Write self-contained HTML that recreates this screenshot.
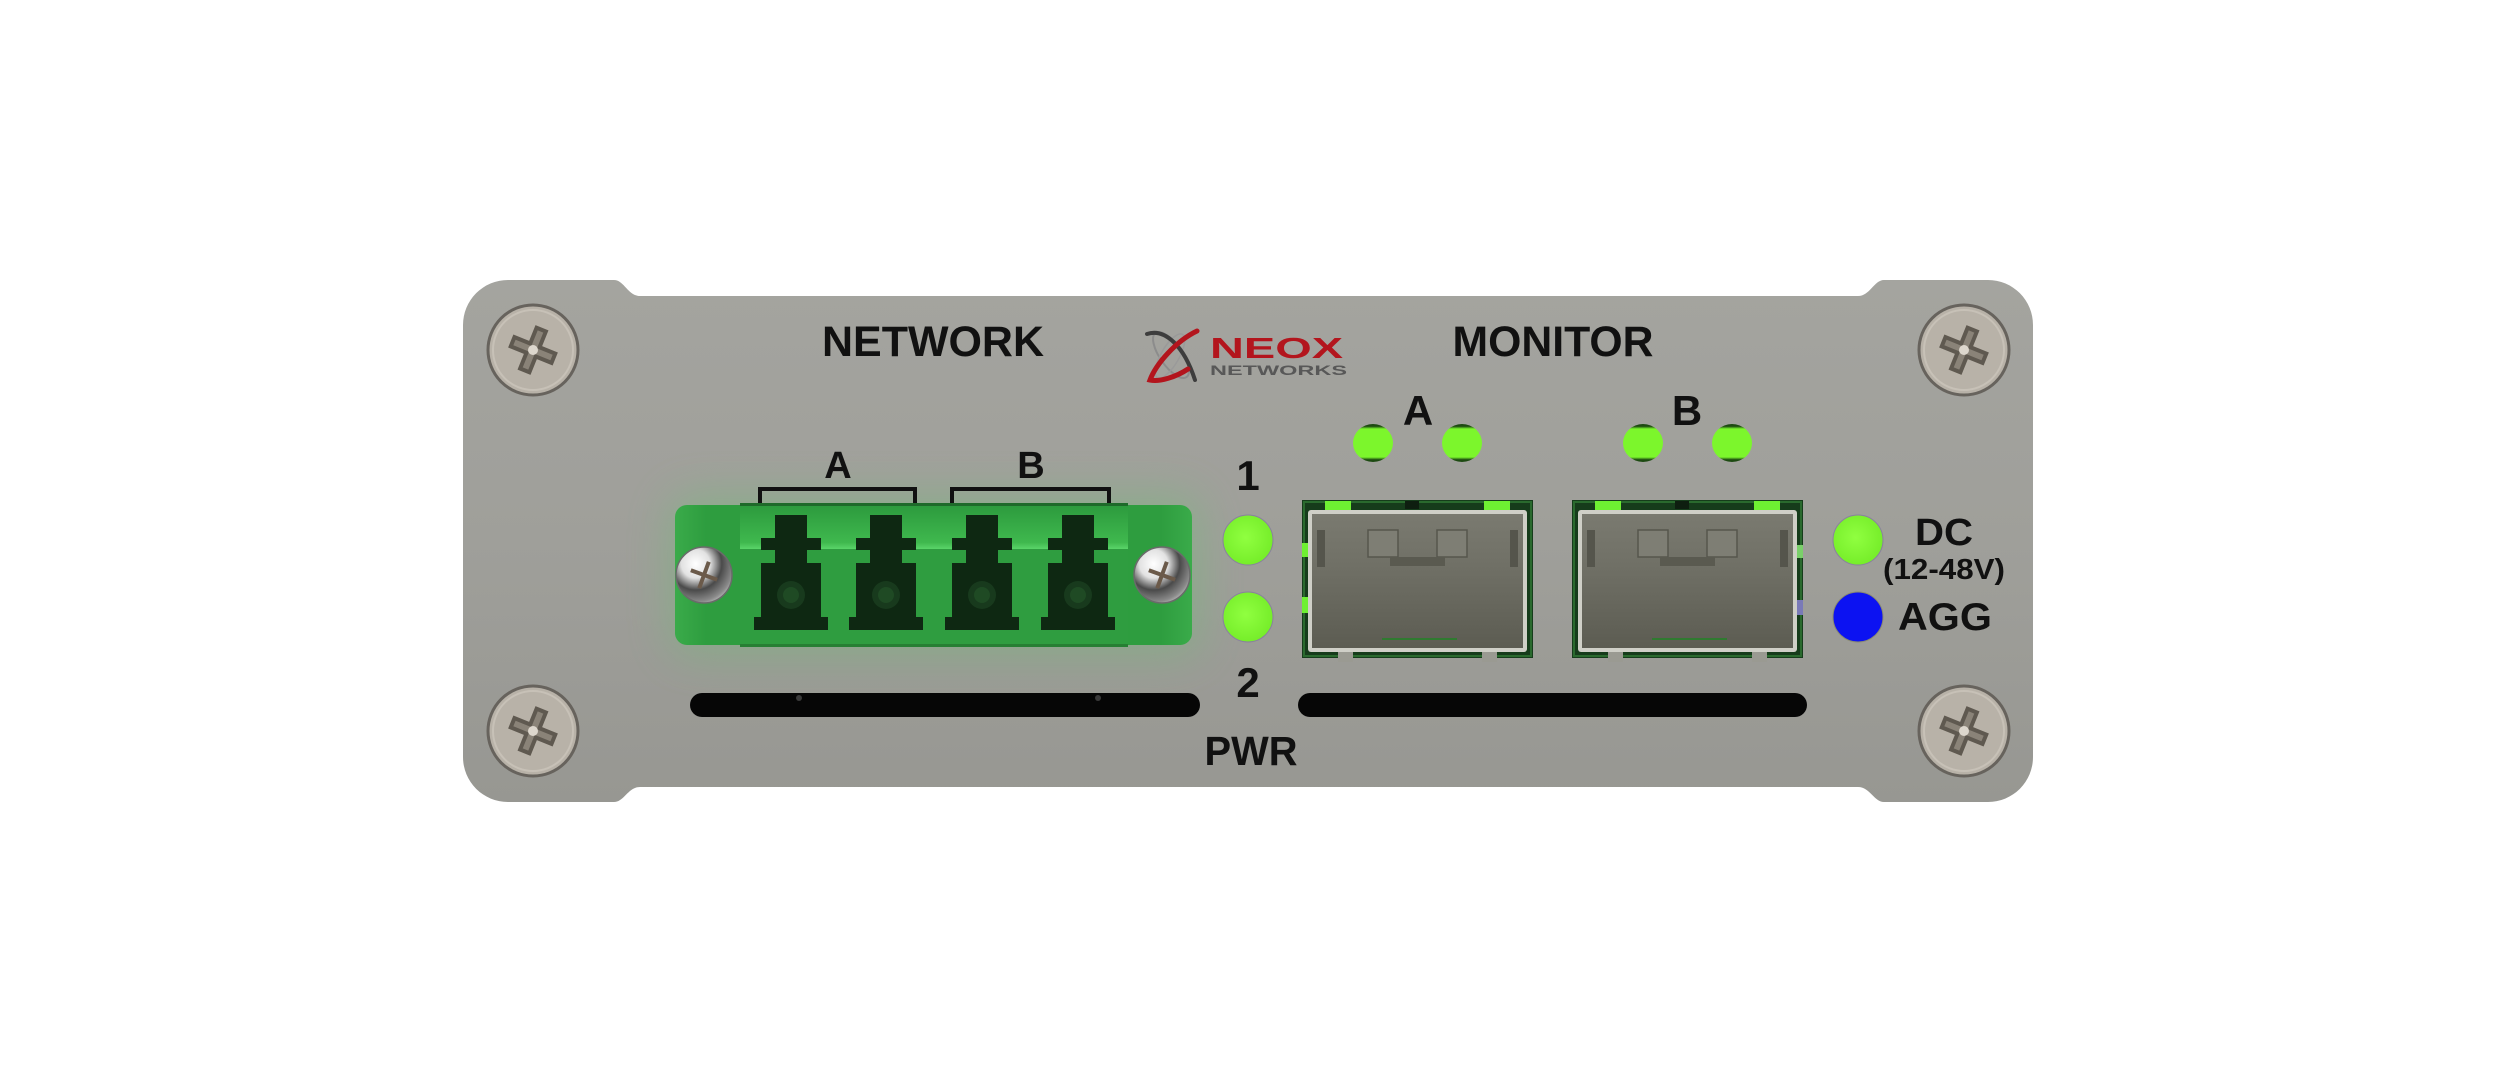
<!DOCTYPE html>
<html>
<head>
<meta charset="utf-8">
<style>
html,body{margin:0;padding:0;background:#ffffff;}
svg{display:block;}
text{font-family:"Liberation Sans",Arial,sans-serif;font-weight:bold;fill:#111111;}
</style>
</head>
<body>
<svg width="2498" height="1082" viewBox="0 0 2498 1082" xmlns="http://www.w3.org/2000/svg">
<defs>
  <linearGradient id="pg" x1="0" y1="0" x2="0" y2="1">
    <stop offset="0" stop-color="#a4a49f"/>
    <stop offset="0.5" stop-color="#9f9f9a"/>
    <stop offset="1" stop-color="#979792"/>
  </linearGradient>
  <radialGradient id="led" cx="0.45" cy="0.45" r="0.6">
    <stop offset="0" stop-color="#90ff40"/>
    <stop offset="1" stop-color="#74ec28"/>
  </radialGradient>
  <linearGradient id="mled" x1="0" y1="0" x2="0" y2="1">
    <stop offset="0" stop-color="#1d4a12"/>
    <stop offset="0.06" stop-color="#1d4a12"/>
    <stop offset="0.13" stop-color="#7cf62c"/>
    <stop offset="0.87" stop-color="#7cf62c"/>
    <stop offset="0.94" stop-color="#1d4a12"/>
    <stop offset="1" stop-color="#1d4a12"/>
  </linearGradient>
  <linearGradient id="sfpi" x1="0" y1="0" x2="0" y2="1">
    <stop offset="0" stop-color="#7a7a70"/>
    <stop offset="0.35" stop-color="#717167"/>
    <stop offset="1" stop-color="#5c5c52"/>
  </linearGradient>
  <linearGradient id="band" x1="0" y1="0" x2="0" y2="1">
    <stop offset="0" stop-color="#2c9a3d"/>
    <stop offset="0.85" stop-color="#3fb84e"/>
    <stop offset="1" stop-color="#5ad469"/>
  </linearGradient>
  <linearGradient id="plate" x1="0" y1="0" x2="1" y2="0">
    <stop offset="0" stop-color="#3aab4a"/>
    <stop offset="0.06" stop-color="#2e9d3f"/>
    <stop offset="0.94" stop-color="#2e9d3f"/>
    <stop offset="1" stop-color="#3aab4a"/>
  </linearGradient>
  <radialGradient id="chrome" cx="0.35" cy="0.3" r="0.85">
    <stop offset="0" stop-color="#ffffff"/>
    <stop offset="0.3" stop-color="#e2e2e2"/>
    <stop offset="0.55" stop-color="#4a4a4a"/>
    <stop offset="0.8" stop-color="#8a8a8a"/>
    <stop offset="1" stop-color="#e8e8e8"/>
  </radialGradient>
  <filter id="blur" x="-50%" y="-50%" width="200%" height="200%">
    <feGaussianBlur stdDeviation="22"/>
  </filter>

  <g id="screw">
    <circle r="45" fill="#b8b2a8" stroke="#67635d" stroke-width="3"/>
    <circle r="40" fill="none" stroke="#c7c1b7" stroke-width="2"/>
    <g transform="rotate(22)">
      <rect x="-24" y="-7" width="48" height="14" fill="#5f5950"/>
      <rect x="-7" y="-24" width="14" height="48" fill="#5f5950"/>
      <rect x="-20" y="-3" width="40" height="6" fill="#8a8378"/>
      <rect x="-3" y="-20" width="6" height="40" fill="#8a8378"/>
    </g>
    <circle r="5" fill="#ddd7cd"/>
  </g>

  <g id="cscrew">
    <circle r="28" fill="url(#chrome)" stroke="#6a6a6a" stroke-width="1.5"/>
    <g transform="rotate(20)">
      <rect x="-14" y="-2" width="28" height="4" fill="#6b5a4a"/>
      <rect x="-2" y="-14" width="4" height="28" fill="#6b5a4a"/>
    </g>
  </g>

  <g id="port">
    <polygon fill="#0e2812" points="-16,515 16,515 16,538 30,538 30,550 16,550 16,563 30,563 30,617 37,617 37,630 -37,630 -37,617 -30,617 -30,563 -16,563 -16,550 -30,550 -30,538 -16,538"/>
    <circle cx="0" cy="595" r="14" fill="#183a1d"/>
    <circle cx="0" cy="595" r="8" fill="#1f4a24"/>
  </g>

  <g id="sfp">
    <rect x="0" y="0" width="231" height="158" fill="#163c1b"/>
    <rect x="2" y="2" width="227" height="154" fill="none" stroke="#2a6a2e" stroke-width="2"/>
    <rect x="6" y="10" width="219" height="142" rx="3" fill="#cfcfc7"/>
    <rect x="10" y="14" width="211" height="134" fill="url(#sfpi)"/>
    <rect x="15" y="30" width="8" height="37" fill="#55554c"/>
    <rect x="208" y="30" width="8" height="37" fill="#55554c"/>
    <rect x="66" y="30" width="30" height="27" fill="#7e7e74" stroke="#56564d" stroke-width="1.5"/>
    <rect x="135" y="30" width="30" height="27" fill="#7e7e74" stroke="#56564d" stroke-width="1.5"/>
    <rect x="88" y="57" width="55" height="9" fill="#5a5a50"/>
    <rect x="23" y="1" width="26" height="9" fill="#6ef032"/>
    <rect x="182" y="1" width="26" height="9" fill="#6ef032"/>
    <rect x="103" y="1" width="14" height="8" fill="#0e1e10"/>
    <rect x="36" y="152" width="15" height="10" fill="#9a9a92"/>
    <rect x="180" y="152" width="15" height="10" fill="#9a9a92"/>
    <rect x="80" y="138" width="75" height="2" fill="#2f7a30"/>
  </g>
</defs>

<rect x="0" y="0" width="2498" height="1082" fill="#ffffff"/>

<path d="M 508 280 L 614 280 C 624 280 628 296 640 296 L 1858 296 C 1870 296 1874 280 1884 280 L 1988 280 A 45 45 0 0 1 2033 325 L 2033 757 A 45 45 0 0 1 1988 802 L 1884 802 C 1874 802 1870 787 1858 787 L 640 787 C 628 787 624 802 614 802 L 508 802 A 45 45 0 0 1 463 757 L 463 325 A 45 45 0 0 1 508 280 Z" fill="url(#pg)"/>

<use href="#screw" x="533" y="350"/>
<use href="#screw" x="533" y="731"/>
<use href="#screw" x="1964" y="350"/>
<use href="#screw" x="1964" y="731"/>

<text x="933" y="356" font-size="43" text-anchor="middle" textLength="222" lengthAdjust="spacingAndGlyphs">NETWORK</text>
<text x="1553" y="356" font-size="43" text-anchor="middle" textLength="201" lengthAdjust="spacingAndGlyphs">MONITOR</text>

<ellipse cx="1171" cy="355" rx="11" ry="27" transform="rotate(-35 1171 355)" fill="none" stroke="#8c8c8c" stroke-width="2"/>
<ellipse cx="1170" cy="356" rx="9" ry="25" transform="rotate(30 1170 356)" fill="none" stroke="#9a9a9a" stroke-width="1.5"/>
<path d="M1147 334 C1165 328 1184 346 1195 380" stroke="#3d3d3d" stroke-width="4" fill="none" stroke-linecap="round"/>
<path d="M1197 331 C1176 341 1156 364 1150 380 C1160 382 1176 377 1188 369" stroke="#b3151d" stroke-width="5" fill="none" stroke-linecap="round"/>
<text x="1210" y="358" font-size="29" style="fill:#b3151d" textLength="133" lengthAdjust="spacingAndGlyphs">NEOX</text>
<text x="1210" y="375" font-size="14" style="fill:#585858" textLength="137" lengthAdjust="spacingAndGlyphs">NETWORKS</text>

<rect x="670" y="495" width="530" height="160" rx="20" fill="#52d060" opacity="0.28" filter="url(#blur)"/>

<text x="838" y="478" font-size="38" text-anchor="middle">A</text>
<text x="1031" y="478" font-size="38" text-anchor="middle">B</text>
<path d="M 760 503 L 760 489 L 915 489 L 915 503" stroke="#111" stroke-width="4" fill="none"/>
<path d="M 952 503 L 952 489 L 1109 489 L 1109 503" stroke="#111" stroke-width="4" fill="none"/>

<rect x="675" y="505" width="517" height="140" rx="12" fill="url(#plate)"/>
<rect x="740" y="503" width="388" height="144" fill="#2f9d40"/>
<rect x="740" y="505" width="388" height="44" fill="url(#band)"/>
<rect x="740" y="503" width="388" height="3" fill="#1e6a2a"/>
<rect x="740" y="644" width="388" height="3" fill="#267f33"/>
<use href="#port" x="791" y="0"/>
<use href="#port" x="886" y="0"/>
<use href="#port" x="982" y="0"/>
<use href="#port" x="1078" y="0"/>
<use href="#cscrew" x="704" y="575"/>
<use href="#cscrew" x="1162" y="575"/>

<text x="1248" y="490" font-size="42" text-anchor="middle">1</text>
<circle cx="1248" cy="540" r="25" fill="url(#led)" stroke="#8a7fa0" stroke-width="1"/>
<circle cx="1248" cy="617" r="25" fill="url(#led)" stroke="#8a7fa0" stroke-width="1"/>
<text x="1248" y="697" font-size="42" text-anchor="middle">2</text>
<text x="1251" y="765" font-size="41" text-anchor="middle" textLength="93" lengthAdjust="spacingAndGlyphs">PWR</text>

<text x="1418" y="425" font-size="42" text-anchor="middle">A</text>
<text x="1687" y="425" font-size="42" text-anchor="middle">B</text>
<ellipse cx="1373" cy="443" rx="20" ry="19" fill="url(#mled)"/>
<ellipse cx="1462" cy="443" rx="20" ry="19" fill="url(#mled)"/>
<ellipse cx="1643" cy="443" rx="20" ry="19" fill="url(#mled)"/>
<ellipse cx="1732" cy="443" rx="20" ry="19" fill="url(#mled)"/>

<use href="#sfp" x="1302" y="500"/>
<use href="#sfp" x="1572" y="500"/>
<rect x="1302" y="543" width="6" height="14" fill="#6ef032"/>
<rect x="1302" y="597" width="6" height="16" fill="#6ef032"/>
<rect x="1797" y="545" width="6" height="13" fill="#7ad06a"/>
<rect x="1797" y="600" width="6" height="15" fill="#7a7ab8"/>

<rect x="690" y="693" width="510" height="24" rx="12" fill="#060606"/>
<rect x="1298" y="693" width="509" height="24" rx="12" fill="#060606"/>
<circle cx="799" cy="698" r="3" fill="#3a3a3a"/>
<circle cx="1098" cy="698" r="3" fill="#3a3a3a"/>

<circle cx="1858" cy="540" r="25" fill="url(#led)" stroke="#8a7fa0" stroke-width="1"/>
<circle cx="1858" cy="617" r="25" fill="#0c12f2" stroke="#8a8a70" stroke-width="1"/>
<text x="1915" y="545" font-size="38" textLength="58" lengthAdjust="spacingAndGlyphs">DC</text>
<text x="1883" y="579" font-size="29" textLength="122" lengthAdjust="spacingAndGlyphs">(12-48V)</text>
<text x="1898" y="630" font-size="39" textLength="94" lengthAdjust="spacingAndGlyphs">AGG</text>
</svg>
</body>
</html>
